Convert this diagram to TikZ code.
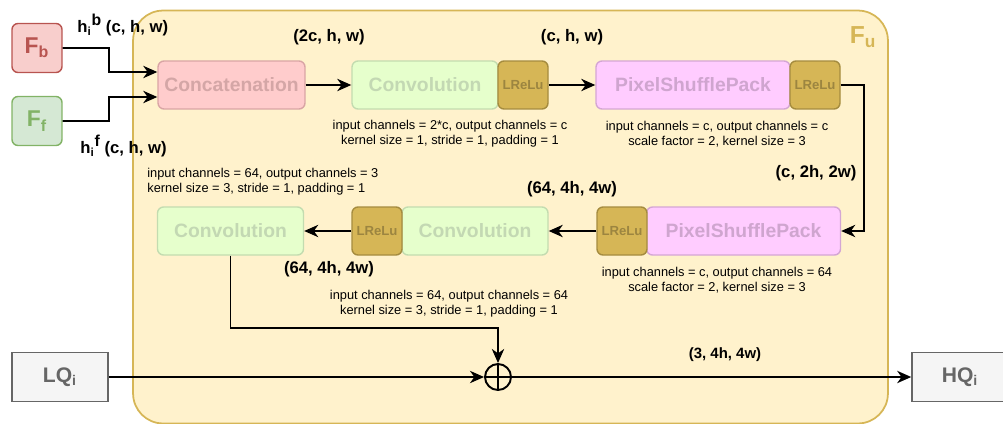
\documentclass[tikz,border=0pt]{standalone}
\usepackage{fontspec}
\setmainfont{Liberation Sans}
\usetikzlibrary{shapes.geometric}
\usetikzlibrary{arrows.meta}
\usetikzlibrary{positioning}

\definecolor{fufill}{HTML}{FFF2CC}
\definecolor{fuline}{HTML}{D6B656}
\definecolor{fbfill}{HTML}{F8CECC}
\definecolor{fbline}{HTML}{B85450}
\definecolor{fffill}{HTML}{D5E8D4}
\definecolor{ffline}{HTML}{82B366}
\definecolor{catfill}{HTML}{FFCCCC}
\definecolor{catline}{HTML}{D9A5A5}
\definecolor{cattext}{HTML}{D4A6A6}
\definecolor{convfill}{HTML}{E6FFCC}
\definecolor{convline}{HTML}{C3DCB0}
\definecolor{convtext}{HTML}{C3D8B3}
\definecolor{pspfill}{HTML}{FFCCFF}
\definecolor{pspline}{HTML}{D4A6D4}
\definecolor{psptext}{HTML}{CFA5CF}
\definecolor{relufill}{HTML}{D6B656}
\definecolor{reluline}{HTML}{A58C3F}
\definecolor{relutext}{HTML}{9C8540}
\definecolor{iofill}{HTML}{F5F5F5}
\definecolor{ioline}{HTML}{666666}

\newcommand{\upidx}[1]{\raisebox{0.75ex}{\fontsize{9}{9}\selectfont #1}}

\begin{document}
\begin{tikzpicture}
[x=0.02cm,y=-0.02cm,
  arr/.style = {-{Stealth[length=8pt,width=7pt,inset=2.5pt]},line width=1.1pt},
  blk/.style = {rectangle,draw,rounded corners=1.2mm,line width=0.8pt,
        minimum height=0.96cm,inner sep=0pt,font=\bfseries\fontsize{11}{13}\selectfont},
  cat/.style = {blk,fill=catfill,draw=catline,text=cattext,minimum width=2.94cm},
  conv/.style = {blk,fill=convfill,draw=convline,text=convtext,minimum width=2.92cm},
  psp/.style = {blk,fill=pspfill,draw=pspline,text=psptext,minimum width=3.88cm},
  relu/.style = {blk,fill=relufill,draw=reluline,text=relutext,minimum width=1cm,
        font=\bfseries\fontsize{7.5}{9}\selectfont},
  feat/.style = {blk,minimum width=1cm,minimum height=0.98cm,
        font=\bfseries\fontsize{13}{15}\selectfont},
  io/.style = {rectangle,draw=ioline,fill=iofill,text=ioline,line width=0.9pt,
        minimum width=1.92cm,minimum height=0.98cm,font=\bfseries\fontsize{12}{14}\selectfont},
  info/.style = {font=\fontsize{7.3}{8.6}\selectfont,align=center,inner sep=0pt},
  dim/.style = {font=\bfseries\fontsize{9.5}{11}\selectfont,inner sep=0pt}]

\useasboundingbox (0,0) rectangle (1003,423);

% container
\node[rectangle,draw=fuline,fill=fufill,line width=1pt,rounded corners=0.6cm,
      minimum width=15.1cm,minimum height=8.26cm] (Fu) at (510.5,217) {};
\node[text=fuline,font=\bfseries\fontsize{14}{16}\selectfont,inner sep=0pt] (FuLabel) at (863,37) {F\textsubscript{u}};

% inputs
\node[feat,fill=fbfill,draw=fbline,text=fbline] (Fb) at (37,48) {F\textsubscript{b}};
\node[feat,fill=fffill,draw=ffline,text=ffline] (Ff) at (37,121) {F\textsubscript{f}};
\node[io] (LQ) at (60,377) {LQ\textsubscript{i}};
\node[io] (HQ) at (960,377) {HQ\textsubscript{i}};

% upper row
\node[cat] (concat) at (231.5,85) {Concatenation};
\node[conv] (conv1) at (425,85) {Convolution};
\node[relu] (relu1) at (523,85) {LReLu};
\node[psp] (psp1) at (693,85) {PixelShufflePack};
\node[relu] (relu2) at (815,85) {LReLu};

% lower row
\node[psp] (psp2) at (743.5,231) {PixelShufflePack};
\node[relu] (relu3) at (622,231) {LReLu};
\node[conv] (conv2) at (475,231) {Convolution};
\node[relu] (relu4) at (377,231) {LReLu};
\node[conv] (conv3) at (230.5,231) {Convolution};

% sum
\node[circle,draw,line width=1.1pt,minimum size=0.52cm,inner sep=0pt] (add) at (498,377) {};
\draw[line width=1.1pt] (add.north) -- (add.south) (add.west) -- (add.east);

% labels
\node[dim,anchor=west] (hb) at (77,25) {h\textsubscript{i}\upidx{b} (c, h, w)};
\node[dim,anchor=west] (hf) at (80,146) {h\textsubscript{i}\upidx{f} (c, h, w)};
\node[dim] (d1) at (329,37) {(2c, h, w)};
\node[dim] (d2) at (572,37) {(c, h, w)};
\node[dim] (d3) at (816,173) {(c, 2h, 2w)};
\node[dim] (d4) at (572,189) {(64, 4h, 4w)};
\node[dim] (d5) at (329,269) {(64, 4h, 4w)};
\node[dim,font=\bfseries\fontsize{8.5}{10}\selectfont] (d6) at (725,355) {(3, 4h, 4w)};

\node[info] (i1) at (450,134) {input channels = 2*c, output channels = c\\kernel size = 1, stride = 1, padding = 1};
\node[info] (i2) at (717,134) {input channels = c, output channels = c\\scale factor = 2, kernel size = 3};
\node[info] (i3) at (717,280) {input channels = c, output channels = 64\\scale factor = 2, kernel size = 3};
\node[info] (i4) at (449,304) {input channels = 64, output channels = 64\\kernel size = 3, stride = 1, padding = 1};
\node[info,anchor=west,align=left] (i5) at (147,182) {input channels = 64, output channels = 3\\kernel size = 3, stride = 1, padding = 1};

% connectors
\coordinate (turn) at (498,328);
\draw[arr] (Fb.east) -| (109,72) -- ([yshift=0.26cm]concat.west);
\draw[arr] (Ff.east) -| (109,97) -- ([yshift=-0.24cm]concat.west);
\draw[arr] (concat) -- (conv1);
\draw[arr] (relu1) -- (psp1);
\draw[arr] (relu2.east) -- (864,85) |- (psp2.east);
\draw[arr] (relu3) -- (conv2);
\draw[arr] (relu4) -- (conv3);
\draw[arr] (conv3.south) |- (turn) -- (add.north);
\draw[arr] (LQ) -- (add);
\draw[arr] (add) -- (HQ);
\end{tikzpicture}
\end{document}
